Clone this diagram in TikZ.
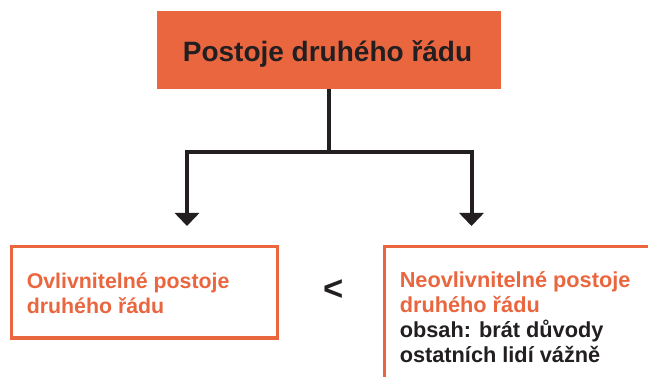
\documentclass[tikz,border=0pt]{standalone}
\usepackage{fontspec}
\setmainfont{Liberation Sans}
\usetikzlibrary{arrows.meta}
\definecolor{orng}{HTML}{EA663F}
\definecolor{ink}{HTML}{231F20}
\begin{document}
\begin{tikzpicture}[x=0.75pt,y=-0.75pt,
  conn/.style={draw=ink,line width=3pt},
  arr/.style={conn,-{Triangle[width=18pt,length=9.75pt]}},
  framebox/.style={draw=orng,line width=2.4pt},
  lbl/.style={inner sep=0pt,anchor=base west,align=left,font=\bfseries}]
\clip (0,0) rectangle (648,377);
\useasboundingbox (0,0) rectangle (648,377);
\fill[white] (0,0) rectangle (648,377);
% top box
\node[fill=orng,minimum width=258pt,minimum height=58.5pt,inner sep=0pt] (top) at (329,50) {};
\node[inner sep=0pt,anchor=base,text=ink,font=\fontsize{21pt}{25pt}\bfseries] (title) at (327.5,62) {Postoje druhého řádu};
% connectors
\coordinate (j) at (329,152);
\coordinate (la) at (187,226);
\coordinate (ra) at (471.5,226);
\draw[conn] (top.south) -- (j);
\draw[arr] (j) -| (la);
\draw[arr] (j) -| (ra);
% left box
\node[framebox,minimum width=200pt,minimum height=68.9pt,inner sep=0pt,anchor=north west] (lbox) at (9.6,244.6) {};
\node[lbl,text=orng,font=\fontsize{16pt}{18.75pt}\bfseries] (ltext) at (26.5,313) {Ovlivnitelné postoje\\druhého řádu};
% comparison
\node[inner sep=0pt,text=ink,font=\fontsize{26pt}{30pt}\bfseries] (lt) at (333.5,290) {<};
% right box
\node[framebox,minimum width=220pt,minimum height=120pt,inner sep=0pt,anchor=north west] (rbox) at (382.6,244.6) {};
\node[lbl,text=orng,font=\fontsize{16.3pt}{18.75pt}\bfseries] (rtext) at (399.5,312) {Neovlivnitelné postoje\\druhého řádu};
\node[lbl,text=ink,font=\fontsize{16.3pt}{18.75pt}\bfseries] (rtext2) at (399.5,362) {obsah: brát důvody\\ostatních lidí vážně};
\end{tikzpicture}
\end{document}
